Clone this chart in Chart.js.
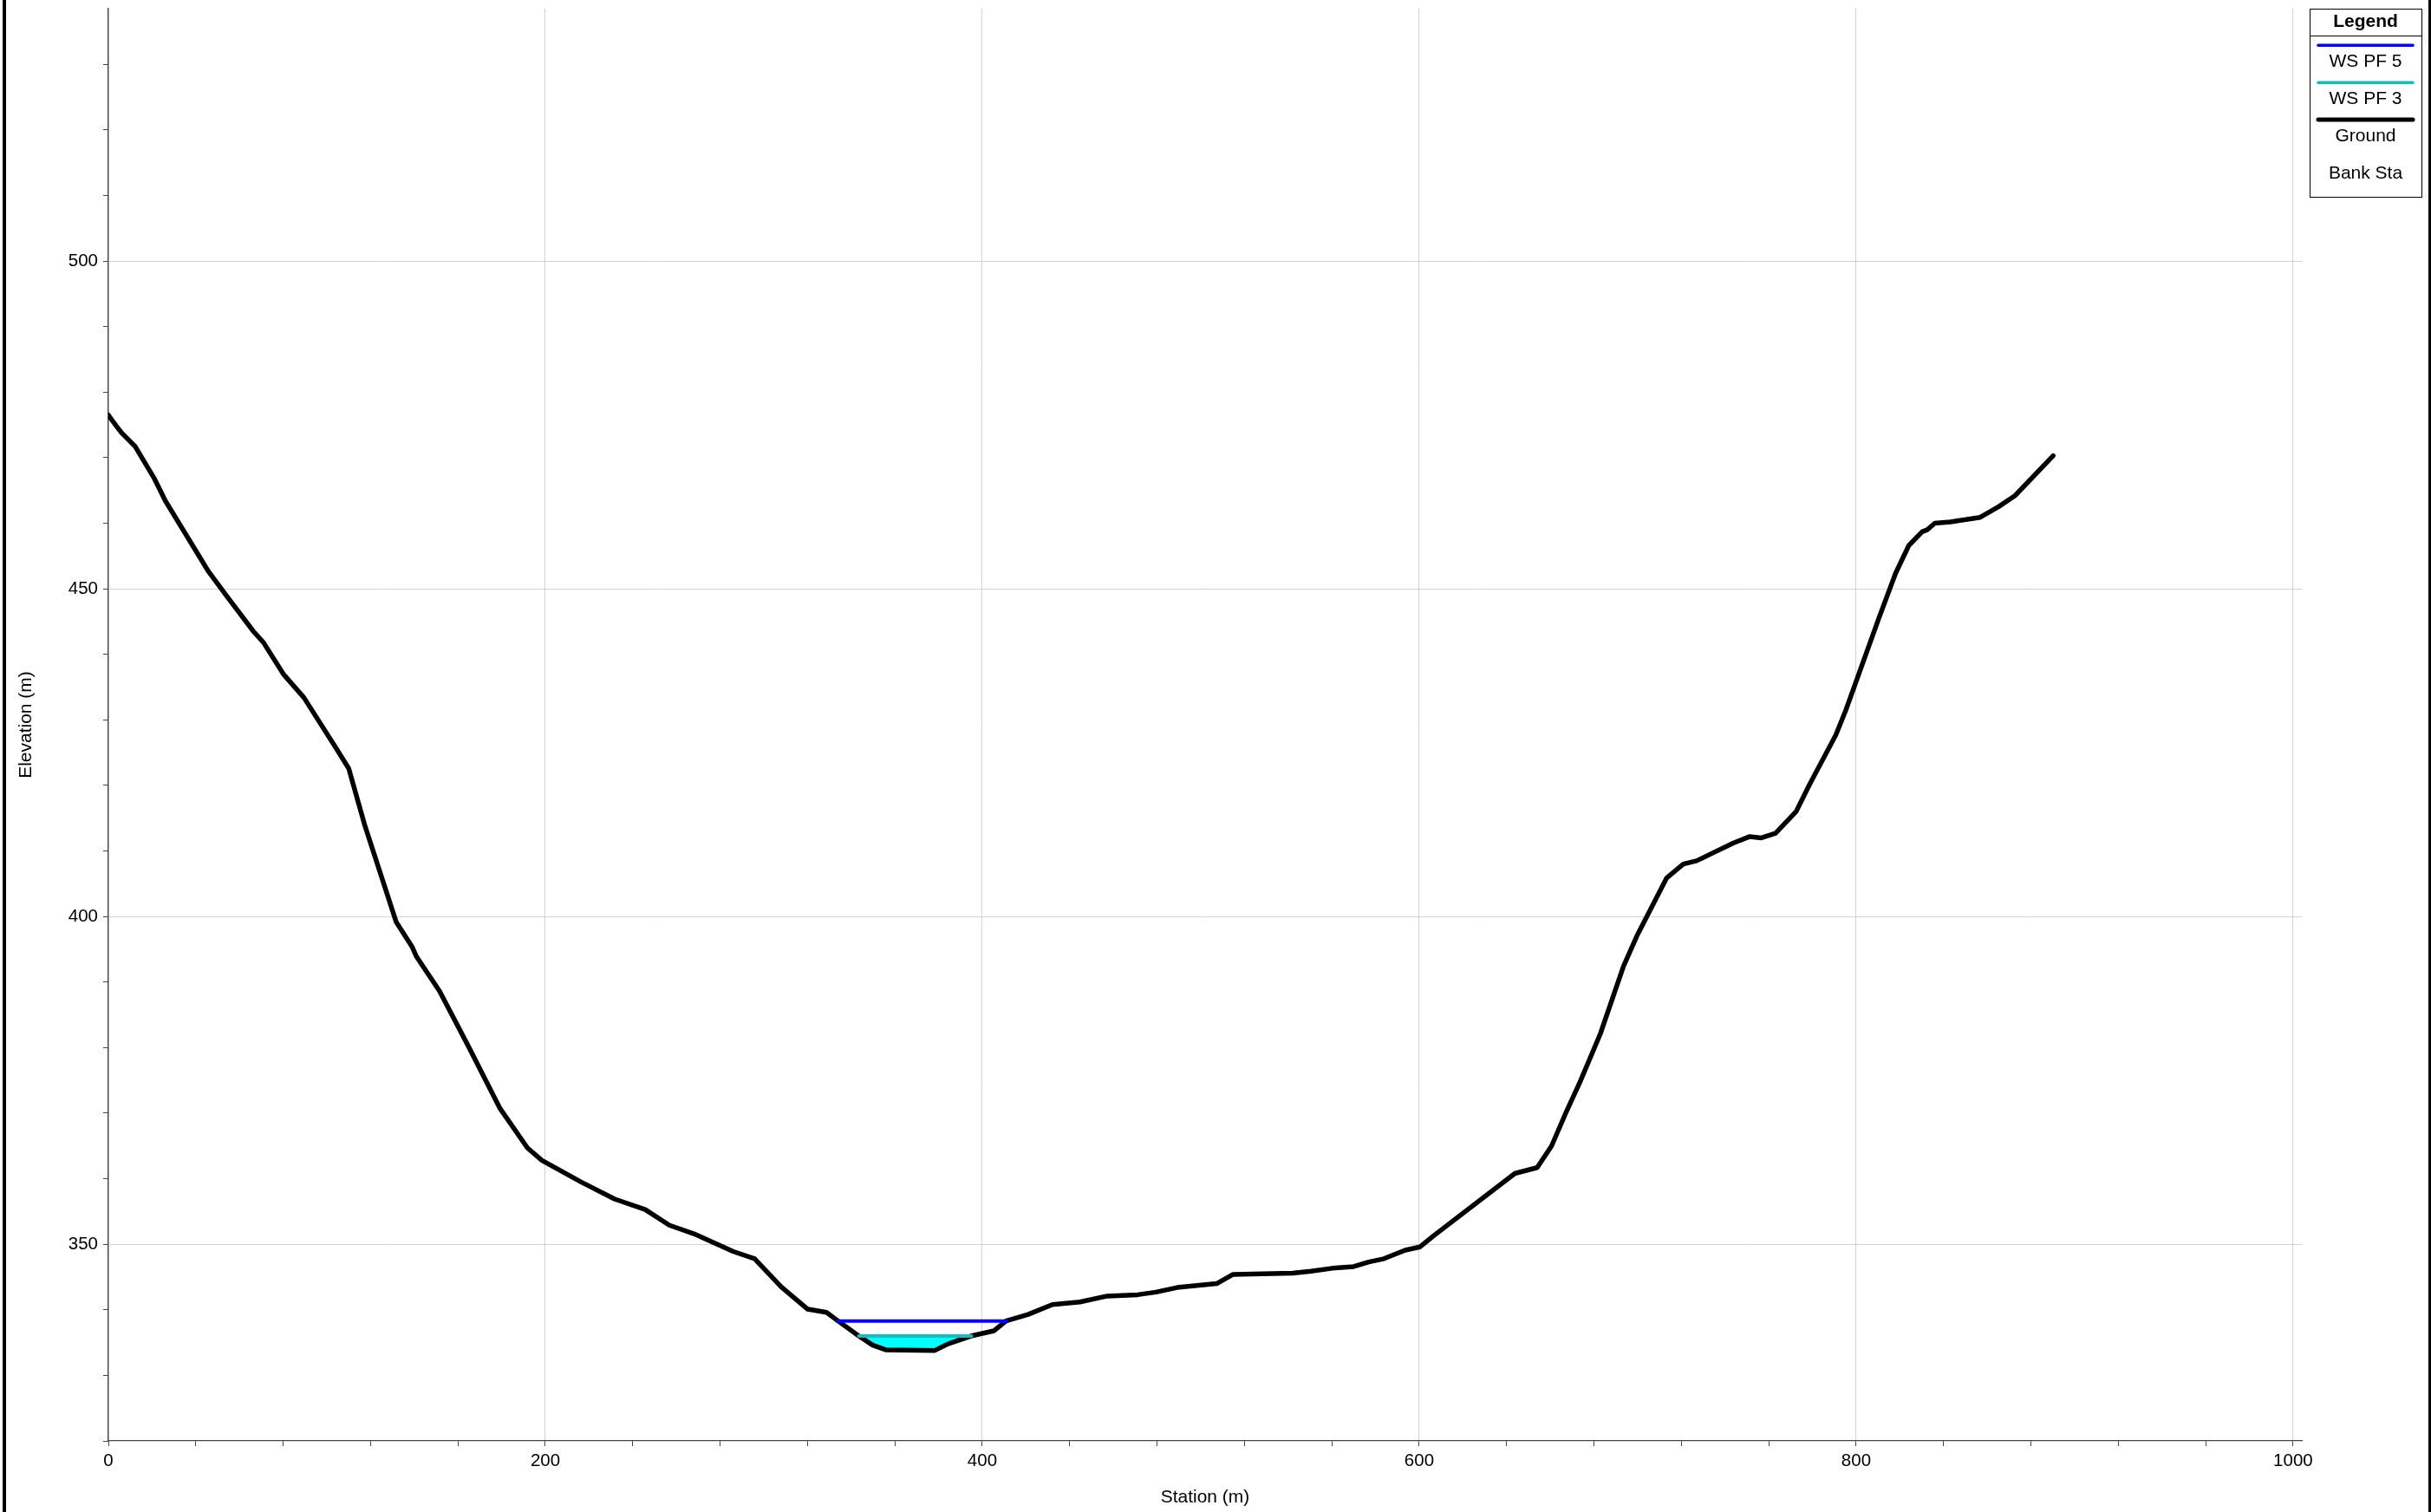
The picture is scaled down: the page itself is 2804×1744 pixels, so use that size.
<!DOCTYPE html>
<html>
<head>
<meta charset="utf-8">
<title>Cross Section</title>
<script src="https://cdn.jsdelivr.net/npm/chart.js@4.4.1/dist/chart.umd.min.js"></script>
<style>
  html, body { margin: 0; padding: 0; background: #ffffff; }
  #wrap { position: relative; width: 2804px; height: 1744px; background: #ffffff; }
  canvas { display: block; }
</style>
</head>
<body>
<div id="wrap"><canvas id="chart" width="2804" height="1744"></canvas></div>
<script>
// ---------------- DATA ----------------
const seriesLabels = ['WS PF 5', 'WS PF 3', 'Ground', 'Bank Sta'];

const groundStation = [
  0, 3.7, 6.3, 12.3, 20.9, 26.1, 45.9, 53.9, 66.4, 71.0, 80.3, 89.5, 104.0, 110.0,
  117.2, 131.7, 139.0, 141.0, 151.6, 164.8, 179.3, 191.8, 198.4, 216.4, 231.7, 245.7,
  256.8, 268.0, 286.0, 295.8, 308.0, 320.1, 328.7, 334.0, 343.5, 349.9, 355.8, 378.3,
  384.3, 394.8, 405.4, 410.9, 421.0, 432.1, 444.7, 457.2, 471.1, 479.5, 489.2, 507.3,
  514.8, 542.1, 550.5, 561.6, 570.0, 576.9, 583.9, 593.6, 600.4, 606.6, 643.8, 654.0,
  660.6, 666.8, 673.8, 682.9, 693.5, 699.6, 713.3, 720.9, 727.0, 743.7, 751.3, 756.6,
  763.1, 772.5, 778.6, 790.7, 795.3, 810.5, 818.1, 824.1, 830.2, 832.5, 836.0, 843.1,
  856.8, 865.1, 872.7, 890.2
];
const groundElevation = [
  476.5, 474.8, 473.7, 471.7, 466.9, 463.4, 452.6, 449.0, 443.5, 441.8, 436.9, 433.4, 425.8, 422.6,
  414.1, 399.2, 395.4, 393.9, 388.6, 380.2, 370.7, 364.7, 362.8, 359.5, 356.9, 355.3,
  352.9, 351.6, 348.9, 347.8, 343.5, 340.1, 339.6, 338.3, 336.0, 334.6, 333.9, 333.8,
  334.8, 336.0, 336.8, 338.3, 339.3, 340.8, 341.2, 342.1, 342.3, 342.7, 343.4, 344.0,
  345.4, 345.6, 345.9, 346.4, 346.6, 347.3, 347.8, 349.1, 349.6, 351.3, 360.8, 361.7,
  365.0, 369.8, 374.9, 382.1, 392.4, 397.0, 405.9, 408.0, 408.5, 411.2, 412.2, 412.0,
  412.7, 416.0, 420.1, 427.7, 431.5, 445.6, 452.4, 456.6, 458.7, 459.0, 460.0, 460.2,
  460.9, 462.5, 464.2, 470.3
];

const wsPF5Station = [333.6, 411.0];
const wsPF5Elevation = [338.3, 338.3];
const wsPF3Station = [343.5, 395.0];
const wsPF3Elevation = [336.0, 336.0];

const xMajorTicks = [0, 200, 400, 600, 800, 1000];
const yMajorTicks = [350, 400, 450, 500];
const xMinorStep = 40;
const yMinorStep = 10;
const xRange = [0, 1004];
const yRange = [320, 538.5];

// ---------------- helpers ----------------
const toPoints = (xs, ys) => xs.map((x, i) => ({ x: x, y: ys[i] }));
const FONT = '"Liberation Sans", Arial, Helvetica, sans-serif';
Chart.defaults.font.family = FONT;
Chart.defaults.color = '#000000';

// frame lines on left/right edges of the picture
const framePlugin = {
  id: 'frame',
  beforeDraw(chart) {
    const ctx = chart.ctx;
    ctx.save();
    ctx.fillStyle = '#ffffff';
    ctx.fillRect(0, 0, chart.width, chart.height);
    ctx.restore();
  },
  afterDraw(chart) {
    const ctx = chart.ctx;
    ctx.save();
    ctx.fillStyle = '#000000';
    ctx.fillRect(3, 0, 4, chart.height);
    ctx.fillRect(chart.width - 3, 0, 3, chart.height);
    ctx.restore();
  }
};

// boxed legend drawn in the upper right corner
const boxLegendPlugin = {
  id: 'boxLegend',
  afterDraw(chart) {
    const { ctx, chartArea } = chart;
    const left = Math.round(chartArea.right) + 9;
    const top = Math.round(chartArea.top);
    const w = 129, h = 217;
    ctx.save();
    ctx.fillStyle = '#ffffff';
    ctx.fillRect(left, top, w, h);
    ctx.strokeStyle = '#000000';
    ctx.lineWidth = 1;
    ctx.strokeRect(left + 0.5, top + 0.5, w, h);
    ctx.beginPath();
    ctx.moveTo(left, top + 31.5);
    ctx.lineTo(left + w, top + 31.5);
    ctx.stroke();
    ctx.textAlign = 'center';
    ctx.textBaseline = 'middle';
    ctx.fillStyle = '#000000';
    ctx.font = 'bold 21px ' + FONT;
    ctx.fillText('Legend', left + w / 2, top + 15);
    ctx.font = '21px ' + FONT;
    chart.data.datasets.forEach((ds, i) => {
      const ly = top + 42.3 + i * 42.9;
      if (ds.data.length) {
        ctx.beginPath();
        ctx.lineCap = 'round';
        ctx.strokeStyle = ds.borderColor;
        ctx.lineWidth = ds.legendLineWidth || ds.borderWidth;
        ctx.moveTo(left + 10, ly);
        ctx.lineTo(left + 119, ly);
        ctx.stroke();
      }
      ctx.fillStyle = '#000000';
      ctx.fillText(ds.label, left + w / 2, ly + 19.4);
    });
    ctx.restore();
  }
};

const GROUND_INDEX = 2;

const chart = new Chart(document.getElementById('chart'), {
  type: 'line',
  data: {
    datasets: [
      {
        label: seriesLabels[0],
        data: toPoints(wsPF5Station, wsPF5Elevation),
        borderColor: '#0000ff',
        borderWidth: 4,
        legendLineWidth: 3.5,
        pointRadius: 0,
        fill: false
      },
      {
        label: seriesLabels[1],
        data: toPoints(wsPF3Station, wsPF3Elevation),
        borderColor: '#14bebe',
        borderWidth: 4,
        legendLineWidth: 3.5,
        backgroundColor: '#00ffff',
        pointRadius: 0,
        fill: { target: GROUND_INDEX, above: '#00ffff', below: '#00ffff' }
      },
      {
        label: seriesLabels[2],
        data: toPoints(groundStation, groundElevation),
        borderColor: '#000000',
        borderWidth: 5.5,
        legendLineWidth: 5,
        pointRadius: 0,
        fill: false
      },
      {
        label: seriesLabels[3],
        data: [],
        borderColor: '#ff0000',
        pointRadius: 0,
        fill: false
      }
    ]
  },
  options: {
    responsive: false,
    devicePixelRatio: 1,
    animation: false,
    events: [],
    elements: {
      line: { tension: 0, borderJoinStyle: 'round', borderCapStyle: 'round' },
      point: { radius: 0, hoverRadius: 0 }
    },
    layout: { padding: { left: 0, top: 10, right: 149, bottom: 0 } },
    plugins: {
      legend: { display: false },
      tooltip: { enabled: false },
      filler: { drawTime: 'beforeDatasetsDraw' }
    },
    scales: {
      x: {
        type: 'linear',
        position: 'bottom',
        min: xRange[0],
        max: xRange[1],
        afterBuildTicks: (scale) => {
          const t = [];
          for (let v = xRange[0]; v <= xMajorTicks[xMajorTicks.length - 1]; v += xMinorStep) t.push({ value: v });
          scale.ticks = t;
        },
        afterFit: (scale) => {
          scale.height = 82;
          scale.paddingLeft = 0;
          scale.paddingRight = 0;
        },
        ticks: {
          autoSkip: false,
          maxRotation: 0,
          padding: 5,
          color: '#000000',
          font: { size: 20.5 },
          callback: (v) => (xMajorTicks.includes(v) ? String(v) : '')
        },
        grid: {
          drawTicks: true,
          tickLength: 6,
          tickColor: '#444444',
          tickWidth: 1,
          lineWidth: 1,
          color: (c) => (c.tick && xMajorTicks.includes(c.tick.value) ? '#d2d2d2' : 'rgba(0,0,0,0)')
        },
        border: { display: true, color: '#444444', width: 1.3 },
        title: {
          display: true,
          text: 'Station (m)',
          color: '#000000',
          font: { size: 21 },
          padding: { top: 0, bottom: 4 }
        }
      },
      y: {
        type: 'linear',
        position: 'left',
        min: yRange[0],
        max: yRange[1],
        afterBuildTicks: (scale) => {
          const t = [];
          for (let v = yRange[0]; v <= 530; v += yMinorStep) t.push({ value: v });
          scale.ticks = t;
        },
        afterFit: (scale) => {
          scale.width = 125;
          scale.paddingTop = 0;
          scale.paddingBottom = 0;
        },
        ticks: {
          autoSkip: false,
          padding: 6,
          color: '#000000',
          font: { size: 20.5 },
          callback: (v) => (yMajorTicks.includes(v) ? String(v) : '')
        },
        grid: {
          drawTicks: true,
          tickLength: 6,
          tickColor: '#444444',
          tickWidth: 1,
          lineWidth: 1,
          color: (c) => (c.tick && yMajorTicks.includes(c.tick.value) ? '#d2d2d2' : 'rgba(0,0,0,0)')
        },
        border: { display: true, color: '#444444', width: 1.3 },
        title: {
          display: true,
          text: 'Elevation (m)',
          color: '#000000',
          font: { size: 21 },
          padding: { top: 18, bottom: 0 }
        }
      }
    }
  },
  plugins: [framePlugin, boxLegendPlugin]
});
</script>
</body>
</html>
